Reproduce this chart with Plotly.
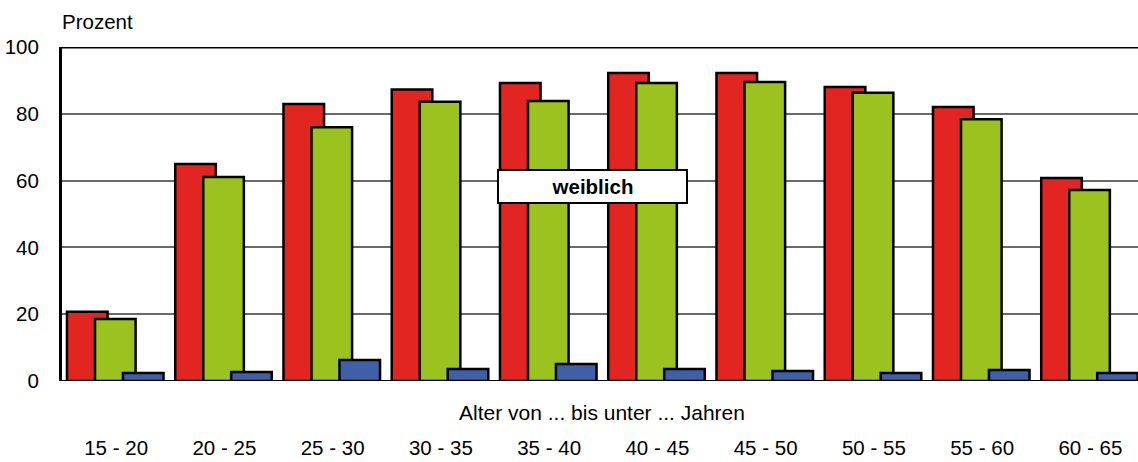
import plotly.graph_objects as go

categories = ["15 - 20", "20 - 25", "25 - 30", "30 - 35", "35 - 40",
              "40 - 45", "45 - 50", "50 - 55", "55 - 60", "60 - 65"]
series_red = [20.7, 65.0, 82.9, 87.3, 89.2, 92.2, 92.2, 88.0, 82.0, 60.8]
series_green = [18.6, 61.1, 76.0, 83.6, 83.8, 89.2, 89.5, 86.3, 78.4, 57.2]
series_blue = [2.4, 2.7, 6.3, 3.6, 5.1, 3.6, 3.0, 2.4, 3.3, 2.4]
y_ticks = [0, 20, 40, 60, 80, 100]

FONT = "Liberation Sans, Arial, sans-serif"
positions = list(range(len(categories)))

fig = go.Figure()
bar_specs = [
    (series_red, "#E32522", -0.454),
    (series_green, "#9BC21F", -0.195),
    (series_blue, "#3F5FA6", 0.063),
]
for vals, color, off in bar_specs:
    fig.add_trace(go.Bar(
        x=positions, y=vals, width=0.375, offset=off,
        marker=dict(color=color, line=dict(color="black", width=2.5)),
        showlegend=False, hoverinfo="skip",
    ))

fig.update_layout(
    width=1138, height=462,
    margin=dict(l=62, r=0, t=47, b=81, autoexpand=False),
    barmode="overlay",
    plot_bgcolor="white", paper_bgcolor="white",
    font=dict(family=FONT, size=20.5, color="black"),
    xaxis=dict(
        range=[-0.5, 9.44], tickvals=positions, ticktext=categories,
        showgrid=False, zeroline=False, showline=False, ticks="",
        ticklabelstandoff=52, tickfont=dict(size=20.5), automargin=False,
    ),
    yaxis=dict(
        range=[0, 100], tickvals=y_ticks, showgrid=True,
        gridcolor="#6a6a6a", gridwidth=1.5, zeroline=False,
        showline=True, linecolor="black", linewidth=3,
        ticks="", ticklabelstandoff=16, tickfont=dict(size=20.5),
        automargin=False,
    ),
    shapes=[
        dict(type="line", xref="paper", yref="y", x0=0, x1=1, y0=100, y1=100,
             line=dict(color="black", width=3)),
        dict(type="line", xref="paper", yref="y", x0=0, x1=1, y0=0, y1=0,
             line=dict(color="black", width=2)),
    ],
    annotations=[
        dict(text="Prozent", xref="paper", yref="paper", x=-0.002, y=1.075,
             xanchor="left", yanchor="middle", showarrow=False,
             font=dict(size=20.5)),
        dict(text="Alter von ... bis unter ... Jahren", xref="paper", yref="paper",
             x=0.502, y=-0.093, xanchor="center", yanchor="middle",
             showarrow=False, font=dict(size=21)),
        dict(text="<b>weiblich</b>", xref="paper", yref="paper", x=0.4926, y=0.581,
             xanchor="center", yanchor="middle", showarrow=False,
             bgcolor="white", bordercolor="black", borderwidth=2, borderpad=2,
             width=183, height=27, font=dict(size=20.5)),
    ],
)

fig.write_html(
    "out.html",
    config={"displayModeBar": False},
    post_script="document.body.style.margin='0';document.body.style.overflow='hidden';",
)
